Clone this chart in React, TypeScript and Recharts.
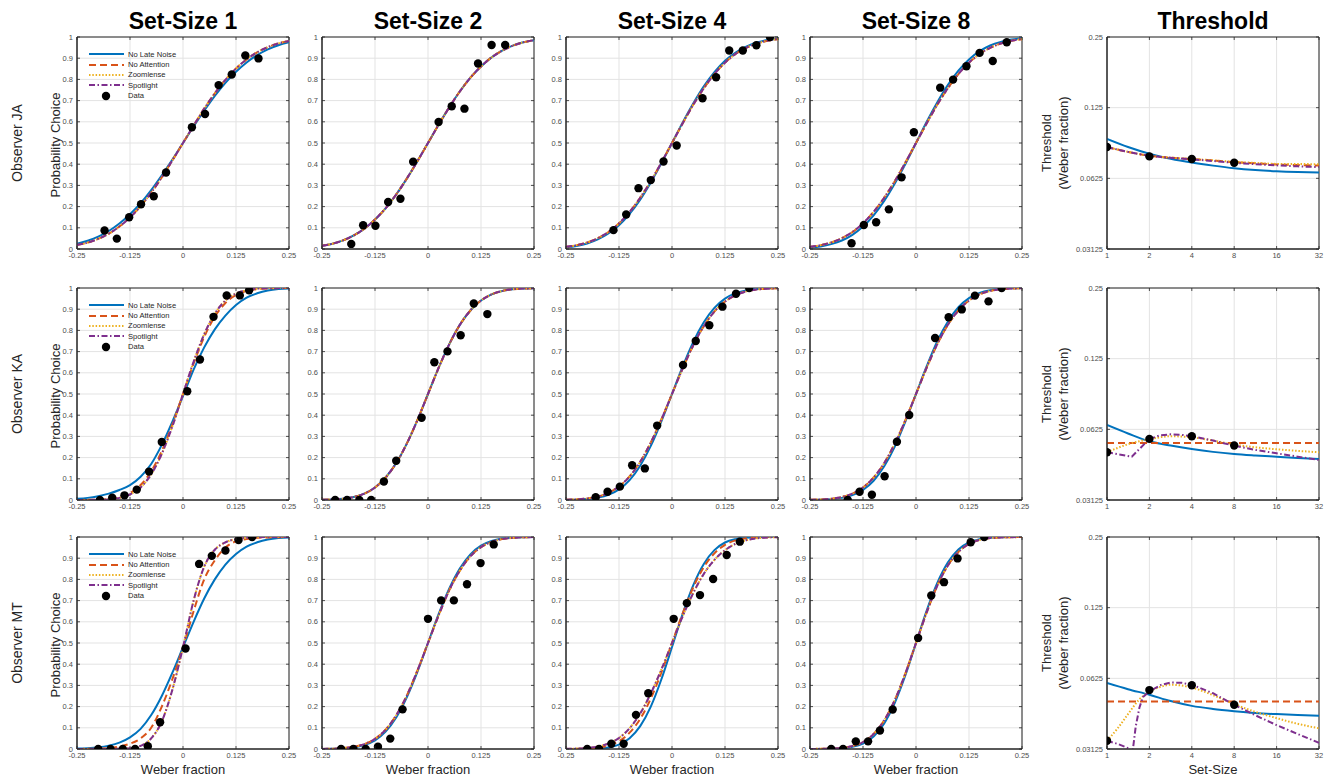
import React from 'react';
import { ComposedChart, Line, Scatter, XAxis, YAxis, CartesianGrid, ReferenceArea, Legend } from 'recharts';

const FONT = '"Liberation Sans", Arial, Helvetica, sans-serif';

// ---------- axes ----------
const WEBER_X = [-0.25, -0.225, -0.2, -0.175, -0.15, -0.125, -0.1, -0.075, -0.05, -0.025, 0, 0.025, 0.05, 0.075, 0.1, 0.125, 0.15, 0.175, 0.2, 0.225, 0.25];
const WEBER_TICKS = [-0.25, -0.125, 0, 0.125, 0.25];
const PROB_TICKS = [0, 0.1, 0.2, 0.3, 0.4, 0.5, 0.6, 0.7, 0.8, 0.9, 1];
const SETSIZE_TICKS = [1, 2, 4, 8, 16, 32];
const THRESH_TICKS = [0.03125, 0.0625, 0.125, 0.25];
const SET_SIZES = [1, 2, 4, 8];

const COL_TITLES = ['Set-Size 1', 'Set-Size 2', 'Set-Size 4', 'Set-Size 8', 'Threshold'];
const OBSERVERS = ['Observer JA', 'Observer KA', 'Observer MT'];

// ---------- series styles ----------
const SERIES = [
  { key: 'late', name: 'No Late Noise', color: '#0072BD', dash: undefined as string | undefined },
  { key: 'att', name: 'No Attention', color: '#D95319', dash: '7 4' },
  { key: 'zoom', name: 'Zoomlense', color: '#EDB120', dash: '1.5 1.8' },
  { key: 'spot', name: 'Spotlight', color: '#7E2F8E', dash: '6 2.5 1.5 2.5' },
];

// ---------- Observer JA: psychometric curves ----------
const JA1_LATE = [0.025, 0.039, 0.058, 0.085, 0.12, 0.164, 0.216, 0.278, 0.348, 0.422, 0.5, 0.578, 0.652, 0.722, 0.784, 0.836, 0.88, 0.915, 0.942, 0.961, 0.975];
const JA1_FIT = [0.019, 0.03, 0.048, 0.072, 0.106, 0.149, 0.202, 0.266, 0.338, 0.418, 0.5, 0.582, 0.662, 0.734, 0.798, 0.851, 0.894, 0.928, 0.952, 0.97, 0.981];
const JA2_FIT = [0.015, 0.025, 0.041, 0.064, 0.096, 0.139, 0.192, 0.257, 0.332, 0.414, 0.5, 0.586, 0.668, 0.743, 0.808, 0.861, 0.904, 0.936, 0.959, 0.975, 0.985];
const JA4_LATE = [0.008, 0.0145, 0.026, 0.045, 0.073, 0.112, 0.166, 0.233, 0.314, 0.404, 0.5, 0.596, 0.686, 0.767, 0.834, 0.888, 0.927, 0.955, 0.974, 0.9855, 0.992];
const JA4_FIT = [0.01, 0.018, 0.031, 0.051, 0.08, 0.121, 0.175, 0.242, 0.32, 0.408, 0.5, 0.592, 0.68, 0.758, 0.825, 0.879, 0.92, 0.949, 0.969, 0.982, 0.99];
const JA8_LATE = [0.006, 0.012, 0.023, 0.04, 0.067, 0.106, 0.159, 0.227, 0.309, 0.401, 0.5, 0.599, 0.691, 0.773, 0.841, 0.894, 0.933, 0.96, 0.977, 0.988, 0.994];
const JA8_FIT = [0.01, 0.018, 0.031, 0.051, 0.08, 0.121, 0.175, 0.242, 0.32, 0.408, 0.5, 0.592, 0.68, 0.758, 0.825, 0.879, 0.92, 0.949, 0.969, 0.982, 0.99];

// ---------- Observer KA ----------
const KA1_LATE = [0.006, 0.01, 0.018, 0.03, 0.047, 0.07, 0.11, 0.17, 0.26, 0.37, 0.49, 0.615, 0.72, 0.805, 0.87, 0.92, 0.955, 0.975, 0.988, 0.995, 0.998];
const KA1_ATT = [0, 0.001, 0.002, 0.005, 0.014, 0.033, 0.071, 0.135, 0.231, 0.357, 0.5, 0.643, 0.769, 0.865, 0.929, 0.967, 0.986, 0.995, 0.998, 0.999, 1];
const KA1_FIT = [0, 0, 0.001, 0.003, 0.01, 0.026, 0.059, 0.121, 0.218, 0.348, 0.5, 0.652, 0.782, 0.879, 0.941, 0.974, 0.99, 0.997, 0.999, 1, 1];
const KA2_FIT = [0.001, 0.0025, 0.006, 0.014, 0.03, 0.059, 0.106, 0.174, 0.266, 0.377, 0.5, 0.623, 0.734, 0.826, 0.894, 0.941, 0.97, 0.986, 0.994, 0.9975, 0.999];
const KA4_LATE = [0.0005, 0.0015, 0.0043, 0.011, 0.024, 0.05, 0.094, 0.162, 0.255, 0.371, 0.5, 0.629, 0.745, 0.838, 0.906, 0.95, 0.976, 0.989, 0.9957, 0.9985, 0.9995];
const KA4_FIT = [0.001, 0.003, 0.0073, 0.016, 0.034, 0.064, 0.111, 0.18, 0.271, 0.38, 0.5, 0.62, 0.729, 0.82, 0.889, 0.936, 0.966, 0.984, 0.9927, 0.997, 0.9989];
const KA8_LATE = [0.0004, 0.0013, 0.004, 0.01, 0.023, 0.048, 0.091, 0.159, 0.252, 0.37, 0.5, 0.63, 0.748, 0.841, 0.909, 0.952, 0.977, 0.99, 0.996, 0.9987, 0.9996];
const KA8_FIT = [0.001, 0.0025, 0.006, 0.014, 0.03, 0.059, 0.106, 0.174, 0.266, 0.377, 0.5, 0.623, 0.734, 0.826, 0.894, 0.941, 0.97, 0.986, 0.994, 0.9975, 0.999];

// ---------- Observer MT ----------
const MT1_LATE = [0.002, 0.004, 0.008, 0.016, 0.03, 0.055, 0.095, 0.16, 0.25, 0.36, 0.48, 0.6, 0.71, 0.8, 0.87, 0.92, 0.955, 0.975, 0.988, 0.995, 0.998];
const MT1_ATT = [0, 0.001, 0.002, 0.005, 0.012, 0.025, 0.05, 0.1, 0.2, 0.33, 0.48, 0.65, 0.8, 0.89, 0.95, 0.98, 0.99, 0.996, 0.998, 0.999, 1];
const MT1_FIT = [0, 0, 0, 0, 0.001, 0.003, 0.015, 0.05, 0.13, 0.28, 0.48, 0.7, 0.86, 0.94, 0.975, 0.99, 0.997, 0.999, 1, 1, 1];
const MT2_LATE = [0.0003, 0.0009, 0.0027, 0.0075, 0.019, 0.041, 0.082, 0.149, 0.244, 0.364, 0.5, 0.636, 0.756, 0.851, 0.918, 0.959, 0.981, 0.9925, 0.9973, 0.9991, 0.9997];
const MT2_FIT = [0.0004, 0.0013, 0.004, 0.01, 0.023, 0.048, 0.091, 0.159, 0.252, 0.37, 0.5, 0.63, 0.748, 0.841, 0.909, 0.952, 0.977, 0.99, 0.996, 0.9987, 0.9996];
const MT4_LATE = [0, 0.0001, 0.0006, 0.0023, 0.0075, 0.021, 0.051, 0.108, 0.2, 0.329, 0.481, 0.636, 0.772, 0.873, 0.938, 0.974, 0.99, 0.997, 0.999, 1, 1];
const MT4_ATT = [0, 0.0007, 0.002, 0.006, 0.016, 0.037, 0.077, 0.142, 0.238, 0.361, 0.5, 0.639, 0.762, 0.858, 0.923, 0.963, 0.984, 0.994, 0.998, 0.9993, 1];
const MT4_FIT = [0.001, 0.002, 0.005, 0.012, 0.026, 0.052, 0.098, 0.168, 0.262, 0.375, 0.5, 0.625, 0.735, 0.826, 0.892, 0.938, 0.968, 0.985, 0.994, 0.998, 0.999];
const MT8_LATE = [0, 0, 0.001, 0.003, 0.01, 0.026, 0.059, 0.121, 0.218, 0.348, 0.5, 0.652, 0.782, 0.879, 0.941, 0.974, 0.99, 0.997, 0.999, 1, 1];
const MT8_FIT = [0, 0.001, 0.002, 0.005, 0.014, 0.033, 0.071, 0.135, 0.231, 0.357, 0.5, 0.643, 0.769, 0.865, 0.929, 0.967, 0.986, 0.995, 0.998, 0.999, 1];

// ---------- observed data points ----------
const JA1_DX = [-0.185, -0.156, -0.127, -0.099, -0.069, -0.04, 0.021, 0.052, 0.084, 0.115, 0.147, 0.178];
const JA1_DY = [0.087, 0.049, 0.15, 0.211, 0.249, 0.361, 0.574, 0.637, 0.773, 0.823, 0.913, 0.899];
const JA2_DX = [-0.181, -0.153, -0.124, -0.094, -0.065, -0.035, 0.025, 0.056, 0.086, 0.118, 0.15, 0.182];
const JA2_DY = [0.024, 0.112, 0.11, 0.222, 0.237, 0.412, 0.599, 0.673, 0.662, 0.875, 0.962, 0.962];
const JA4_DX = [-0.138, -0.108, -0.079, -0.05, -0.02, 0.011, 0.072, 0.104, 0.135, 0.167, 0.199, 0.231];
const JA4_DY = [0.089, 0.163, 0.287, 0.325, 0.413, 0.488, 0.711, 0.81, 0.936, 0.936, 0.961, 1.0];
const JA8_DX = [-0.152, -0.123, -0.094, -0.064, -0.034, -0.005, 0.057, 0.0875, 0.119, 0.15, 0.181, 0.214];
const JA8_DY = [0.027, 0.113, 0.126, 0.187, 0.338, 0.551, 0.761, 0.799, 0.862, 0.925, 0.887, 0.975];

const KA1_DX = [-0.196, -0.167, -0.138, -0.109, -0.08, -0.05, 0.01, 0.04, 0.072, 0.103, 0.134, 0.156];
const KA1_DY = [0.0, 0.011, 0.022, 0.049, 0.134, 0.274, 0.513, 0.663, 0.864, 0.965, 0.965, 0.989];
const KA2_DX = [-0.219, -0.191, -0.162, -0.134, -0.104, -0.075, -0.015, 0.015, 0.046, 0.077, 0.108, 0.14];
const KA2_DY = [0, 0, 0, 0, 0.087, 0.185, 0.388, 0.65, 0.701, 0.777, 0.927, 0.877];
const KA4_DX = [-0.18, -0.152, -0.123, -0.094, -0.064, -0.035, 0.026, 0.056, 0.088, 0.119, 0.151, 0.182];
const KA4_DY = [0.013, 0.039, 0.063, 0.164, 0.149, 0.351, 0.637, 0.75, 0.824, 0.912, 0.973, 1.0];
const KA8_DX = [-0.161, -0.133, -0.104, -0.074, -0.045, -0.016, 0.045, 0.077, 0.108, 0.139, 0.171, 0.202];
const KA8_DY = [0, 0.039, 0.025, 0.112, 0.275, 0.401, 0.764, 0.862, 0.899, 0.964, 0.937, 1.0];

const MT1_DX = [-0.2, -0.171, -0.142, -0.113, -0.083, -0.054, 0.006, 0.038, 0.068, 0.1, 0.131, 0.163];
const MT1_DY = [0, 0, 0, 0, 0.013, 0.126, 0.474, 0.873, 0.911, 0.936, 0.986, 1.0];
const MT2_DX = [-0.205, -0.176, -0.147, -0.118, -0.089, -0.06, 0.0, 0.031, 0.061, 0.092, 0.124, 0.155];
const MT2_DY = [0, 0, 0, 0.011, 0.049, 0.187, 0.614, 0.701, 0.701, 0.777, 0.877, 0.965];
const MT4_DX = [-0.2, -0.172, -0.143, -0.114, -0.085, -0.056, 0.004, 0.035, 0.066, 0.097, 0.129, 0.16];
const MT4_DY = [0, 0, 0.025, 0.025, 0.161, 0.263, 0.614, 0.688, 0.726, 0.802, 0.915, 0.978];
const MT8_DX = [-0.2, -0.172, -0.142, -0.113, -0.085, -0.055, 0.005, 0.036, 0.066, 0.098, 0.129, 0.161];
const MT8_DY = [0, 0, 0.036, 0.036, 0.087, 0.186, 0.524, 0.724, 0.787, 0.899, 0.975, 1.0];

// ---------- thresholds ----------
const THR_X = [1, 1.41, 2, 2.83, 4, 5.66, 8, 11.3, 16, 22.6, 32];
const FLAT_X = [1, 32];

const JA_THR_LATE = [0.092, 0.085, 0.0796, 0.0758, 0.073, 0.0708, 0.069, 0.0678, 0.067, 0.0665, 0.0662];
const JA_THR_ATT = [0.085, 0.081, 0.078, 0.0765, 0.0755, 0.0745, 0.0732, 0.0724, 0.0716, 0.0712, 0.0708];
const JA_THR_ZOOM = [0.085, 0.081, 0.078, 0.0766, 0.0756, 0.0746, 0.0735, 0.0727, 0.072, 0.0719, 0.0718];
const JA_THR_SPOT = [0.085, 0.081, 0.078, 0.0764, 0.0753, 0.0741, 0.0728, 0.0718, 0.071, 0.0703, 0.0698];
const JA_THR_DATA = [0.085, 0.0775, 0.0755, 0.0728];

const KA_THR_LATE = [0.0652, 0.06, 0.0556, 0.0533, 0.0515, 0.0501, 0.0491, 0.0484, 0.0478, 0.0472, 0.0467];
const KA_THR_ATT = [0.0547, 0.0547];
const KA_THR_ZOOM = [0.0499, 0.054, 0.0567, 0.0584, 0.0578, 0.056, 0.0538, 0.0524, 0.0514, 0.0506, 0.0499];
const KA_SPOT_X = [1, 1.5, 2, 2.4, 2.83, 3.4, 4, 5.66, 8, 11.3, 16, 22.6, 32];
const KA_THR_SPOT = [0.0499, 0.0478, 0.0569, 0.059, 0.0595, 0.0592, 0.0584, 0.056, 0.0532, 0.0511, 0.0494, 0.0478, 0.0463];
const KA_THR_DATA = [0.0499, 0.0569, 0.0584, 0.0533];

const MT_THR_LATE = [0.0597, 0.0562, 0.0532, 0.05, 0.0477, 0.0463, 0.0453, 0.0445, 0.044, 0.0436, 0.0433];
const MT_THR_ATT = [0.0498, 0.0498];
const MT_ZOOM_X = [1, 1.2, 1.41, 1.68, 2, 2.4, 2.83, 4, 5.66, 8, 11.3, 16, 22.6, 32];
const MT_THR_ZOOM = [0.0339, 0.0385, 0.044, 0.0505, 0.0548, 0.0575, 0.0587, 0.0571, 0.053, 0.0485, 0.045, 0.0423, 0.04, 0.0383];
const MT_SPOT_X = [1, 1.2, 1.45, 1.5, 1.53, 1.6, 1.7, 1.8, 2, 2.4, 2.83, 3.4, 4, 5.66, 8, 11.3, 16, 22.6, 32];
const MT_THR_SPOT = [0.0339, 0.0328, 0.0313, 0.0298, 0.0314, 0.039, 0.047, 0.052, 0.055, 0.0585, 0.06, 0.0598, 0.0587, 0.054, 0.0482, 0.0435, 0.0395, 0.0362, 0.0332];
const MT_THR_DATA = [0.0339, 0.0557, 0.0584, 0.0482];

// ---------- layout ----------
const PLOT = 212;
const COL_LEFT = [77, 322, 566, 810, 1107];
const ROW_TOP = [37, 288, 537];

const toPts = (xs: number[], ys: number[]) => xs.map((x, i) => ({ x, y: ys[i] }));

const TICK_FONT = { fontSize: 7.5, fill: '#4d4d4d', fontFamily: FONT };
const AXIS_COLOR = '#262626';
const TICK_LEN = 3;

// custom ticks: label plus MATLAB-style inward tick marks on both sides of the box
const makeXTick = (plotTop: number, plotBottom: number) => (props: any) => {
  const { x, y, payload } = props;
  return (
    <g>
      <line x1={x} x2={x} y1={plotBottom} y2={plotBottom - TICK_LEN} stroke={AXIS_COLOR} strokeWidth={0.8} />
      <line x1={x} x2={x} y1={plotTop} y2={plotTop + TICK_LEN} stroke={AXIS_COLOR} strokeWidth={0.8} />
      <text x={x} y={y} dy="0.71em" textAnchor="middle" {...TICK_FONT}>
        {String(payload.value)}
      </text>
    </g>
  );
};
const makeYTick = (plotLeft: number, plotRight: number) => (props: any) => {
  const { x, y, payload } = props;
  return (
    <g>
      <line x1={plotLeft} x2={plotLeft + TICK_LEN} y1={y} y2={y} stroke={AXIS_COLOR} strokeWidth={0.8} />
      <line x1={plotRight} x2={plotRight - TICK_LEN} y1={y} y2={y} stroke={AXIS_COLOR} strokeWidth={0.8} />
      <text x={x} y={y} dy="0.355em" textAnchor="end" {...TICK_FONT}>
        {String(payload.value)}
      </text>
    </g>
  );
};

const Dot = (p: any) => <circle cx={p.cx} cy={p.cy} r={4.2} fill="#000" />;

const LegendBox = () => (
  <div style={{ fontFamily: FONT, fontSize: 7.6, color: '#262626' }}>
    {SERIES.map((s) => (
      <div key={s.key} style={{ display: 'flex', alignItems: 'center', height: 10.4 }}>
        <svg width={36} height={6} style={{ display: 'block' }}>
          <line x1={0} y1={3} x2={35} y2={3} stroke={s.color} strokeWidth={2} strokeDasharray={s.dash} />
        </svg>
        <span style={{ marginLeft: 3, whiteSpace: 'nowrap' }}>{s.name}</span>
      </div>
    ))}
    <div style={{ display: 'flex', alignItems: 'center', height: 10.4 }}>
      <svg width={36} height={10} style={{ display: 'block' }}>
        <circle cx={17} cy={5} r={4.2} fill="#000" />
      </svg>
      <span style={{ marginLeft: 3 }}>Data</span>
    </div>
  </div>
);

type PsychProps = { left: number; top: number; curves: number[][]; dx: number[]; dy: number[]; legend?: boolean };

function PsychPanel({ left, top, curves, dx, dy, legend }: PsychProps) {
  const YW = 28;
  const MT = 4;
  const MR = 14;
  const XH = 18;
  return (
    <div style={{ position: 'absolute', left: left - YW, top: top - MT }}>
      <ComposedChart width={YW + PLOT + MR} height={MT + PLOT + XH} margin={{ top: MT, right: MR, bottom: 0, left: 0 }}>
        <CartesianGrid stroke="#e3e3e3" strokeWidth={1} />
        <XAxis
          dataKey="x"
          type="number"
          domain={[-0.25, 0.25]}
          ticks={WEBER_TICKS}
          interval={0}
          allowDataOverflow
          height={XH}
          tick={makeXTick(MT, MT + PLOT)}
          tickSize={2}
          tickMargin={2}
          tickLine={false}
          stroke={AXIS_COLOR}
        />
        <YAxis
          dataKey="y"
          type="number"
          domain={[0, 1]}
          ticks={PROB_TICKS}
          interval={0}
          allowDataOverflow
          width={YW}
          tick={makeYTick(YW, YW + PLOT)}
          tickSize={2}
          tickMargin={2}
          tickLine={false}
          stroke={AXIS_COLOR}
        />
        <ReferenceArea x1={-0.25} x2={0.25} y1={0} y2={1} fill="none" stroke={AXIS_COLOR} strokeWidth={1} ifOverflow="visible" />
        {SERIES.map((s, i) => (
          <Line
            key={s.key}
            name={s.name}
            data={toPts(WEBER_X, curves[i])}
            dataKey="y"
            type="monotone"
            stroke={s.color}
            strokeWidth={2}
            strokeDasharray={s.dash}
            dot={false}
            isAnimationActive={false}
          />
        ))}
        <Scatter name="Data" data={toPts(dx, dy)} dataKey="y" fill="#000" shape={Dot} isAnimationActive={false} />
        {legend && (
          <Legend
            layout="vertical"
            align="center"
            verticalAlign="middle"
            content={() => <LegendBox />}
            wrapperStyle={{ left: YW + 12, top: MT + 12, width: 110 }}
          />
        )}
      </ComposedChart>
    </div>
  );
}

type ThrSeries = { xs: number[]; ys: number[]; linear?: boolean };
type ThrProps = { left: number; top: number; series: ThrSeries[]; data: number[] };

function ThresholdPanel({ left, top, series, data }: ThrProps) {
  const YW = 40;
  const MT = 4;
  const MR = 12;
  const XH = 18;
  return (
    <div style={{ position: 'absolute', left: left - YW, top: top - MT }}>
      <ComposedChart width={YW + PLOT + MR} height={MT + PLOT + XH} margin={{ top: MT, right: MR, bottom: 0, left: 0 }}>
        <CartesianGrid stroke="#e3e3e3" strokeWidth={1} />
        <XAxis
          dataKey="x"
          type="number"
          scale="log"
          domain={[1, 32]}
          ticks={SETSIZE_TICKS}
          interval={0}
          allowDataOverflow
          height={XH}
          tick={makeXTick(MT, MT + PLOT)}
          tickSize={2}
          tickMargin={2}
          tickLine={false}
          stroke={AXIS_COLOR}
        />
        <YAxis
          dataKey="y"
          type="number"
          scale="log"
          domain={[0.03125, 0.25]}
          ticks={THRESH_TICKS}
          interval={0}
          allowDataOverflow
          width={YW}
          tick={makeYTick(YW, YW + PLOT)}
          tickSize={2}
          tickMargin={2}
          tickLine={false}
          stroke={AXIS_COLOR}
        />
        <ReferenceArea x1={1} x2={32} y1={0.03125} y2={0.25} fill="none" stroke={AXIS_COLOR} strokeWidth={1} ifOverflow="visible" />
        {SERIES.map((s, i) => (
          <Line
            key={s.key}
            name={s.name}
            data={toPts(series[i].xs, series[i].ys)}
            dataKey="y"
            type={series[i].linear ? 'linear' : 'monotone'}
            stroke={s.color}
            strokeWidth={2}
            strokeDasharray={s.dash}
            dot={false}
            isAnimationActive={false}
          />
        ))}
        <Scatter name="Data" data={toPts(SET_SIZES, data)} dataKey="y" fill="#000" shape={Dot} isAnimationActive={false} />
      </ComposedChart>
    </div>
  );
}

const textBase: React.CSSProperties = { position: 'absolute', fontFamily: FONT, whiteSpace: 'nowrap' };

const Rotated = ({ cx, cy, size, children, lineHeight }: { cx: number; cy: number; size: number; children: React.ReactNode; lineHeight?: number }) => (
  <div
    style={{
      ...textBase,
      left: cx,
      top: cy,
      fontSize: size,
      color: '#262626',
      textAlign: 'center',
      lineHeight: lineHeight ? `${lineHeight}px` : 'normal',
      transform: 'translate(-50%, -50%) rotate(-90deg)',
    }}
  >
    {children}
  </div>
);

export default function App() {
  const psychRows = [
    [
      { curves: [JA1_LATE, JA1_FIT, JA1_FIT, JA1_FIT], dx: JA1_DX, dy: JA1_DY },
      { curves: [JA2_FIT, JA2_FIT, JA2_FIT, JA2_FIT], dx: JA2_DX, dy: JA2_DY },
      { curves: [JA4_LATE, JA4_FIT, JA4_FIT, JA4_FIT], dx: JA4_DX, dy: JA4_DY },
      { curves: [JA8_LATE, JA8_FIT, JA8_FIT, JA8_FIT], dx: JA8_DX, dy: JA8_DY },
    ],
    [
      { curves: [KA1_LATE, KA1_ATT, KA1_FIT, KA1_FIT], dx: KA1_DX, dy: KA1_DY },
      { curves: [KA2_FIT, KA2_FIT, KA2_FIT, KA2_FIT], dx: KA2_DX, dy: KA2_DY },
      { curves: [KA4_LATE, KA4_FIT, KA4_FIT, KA4_FIT], dx: KA4_DX, dy: KA4_DY },
      { curves: [KA8_LATE, KA8_FIT, KA8_FIT, KA8_FIT], dx: KA8_DX, dy: KA8_DY },
    ],
    [
      { curves: [MT1_LATE, MT1_ATT, MT1_FIT, MT1_FIT], dx: MT1_DX, dy: MT1_DY },
      { curves: [MT2_LATE, MT2_FIT, MT2_FIT, MT2_FIT], dx: MT2_DX, dy: MT2_DY },
      { curves: [MT4_LATE, MT4_ATT, MT4_FIT, MT4_FIT], dx: MT4_DX, dy: MT4_DY },
      { curves: [MT8_LATE, MT8_FIT, MT8_FIT, MT8_FIT], dx: MT8_DX, dy: MT8_DY },
    ],
  ];

  const thrRows = [
    {
      series: [
        { xs: THR_X, ys: JA_THR_LATE },
        { xs: THR_X, ys: JA_THR_ATT },
        { xs: THR_X, ys: JA_THR_ZOOM },
        { xs: THR_X, ys: JA_THR_SPOT },
      ],
      data: JA_THR_DATA,
    },
    {
      series: [
        { xs: THR_X, ys: KA_THR_LATE },
        { xs: FLAT_X, ys: KA_THR_ATT, linear: true },
        { xs: THR_X, ys: KA_THR_ZOOM },
        { xs: KA_SPOT_X, ys: KA_THR_SPOT, linear: true },
      ],
      data: KA_THR_DATA,
    },
    {
      series: [
        { xs: THR_X, ys: MT_THR_LATE },
        { xs: FLAT_X, ys: MT_THR_ATT, linear: true },
        { xs: MT_ZOOM_X, ys: MT_THR_ZOOM },
        { xs: MT_SPOT_X, ys: MT_THR_SPOT, linear: true },
      ],
      data: MT_THR_DATA,
    },
  ];

  return (
    <div style={{ position: 'absolute', left: 0, top: 0, width: 1333, height: 779, background: '#fff', overflow: 'hidden' }}>
      {COL_TITLES.map((t, c) => (
        <div
          key={t}
          style={{
            ...textBase,
            left: COL_LEFT[c] + PLOT / 2 - 100,
            width: 200,
            top: 10,
            textAlign: 'center',
            fontSize: 23,
            lineHeight: '22px',
            fontWeight: 'bold',
            color: '#000',
          }}
        >
          {t}
        </div>
      ))}

      {OBSERVERS.map((o, r) => (
        <Rotated key={o} cx={17} cy={ROW_TOP[r] + PLOT / 2} size={14}>
          {o}
        </Rotated>
      ))}
      {ROW_TOP.map((t, r) => (
        <Rotated key={'pc' + r} cx={55} cy={t + PLOT / 2 + 2} size={13}>
          Probability Choice
        </Rotated>
      ))}
      {ROW_TOP.map((t, r) => (
        <Rotated key={'th' + r} cx={1055} cy={t + PLOT / 2} size={13} lineHeight={17}>
          Threshold
          <br />
          (Weber fraction)
        </Rotated>
      ))}

      {[0, 1, 2, 3].map((c) => (
        <div
          key={'wf' + c}
          style={{ ...textBase, left: COL_LEFT[c] + PLOT / 2 - 60, width: 120, top: 762, textAlign: 'center', fontSize: 13, lineHeight: '16px', color: '#262626' }}
        >
          Weber fraction
        </div>
      ))}
      <div style={{ ...textBase, left: COL_LEFT[4] + PLOT / 2 - 60, width: 120, top: 762, textAlign: 'center', fontSize: 13, lineHeight: '16px', color: '#262626' }}>
        Set-Size
      </div>

      {psychRows.map((row, r) =>
        row.map((p, c) => (
          <PsychPanel key={`p${r}${c}`} left={COL_LEFT[c]} top={ROW_TOP[r]} curves={p.curves} dx={p.dx} dy={p.dy} legend={c === 0} />
        ))
      )}
      {thrRows.map((t, r) => (
        <ThresholdPanel key={`t${r}`} left={COL_LEFT[4]} top={ROW_TOP[r]} series={t.series} data={t.data} />
      ))}
    </div>
  );
}
